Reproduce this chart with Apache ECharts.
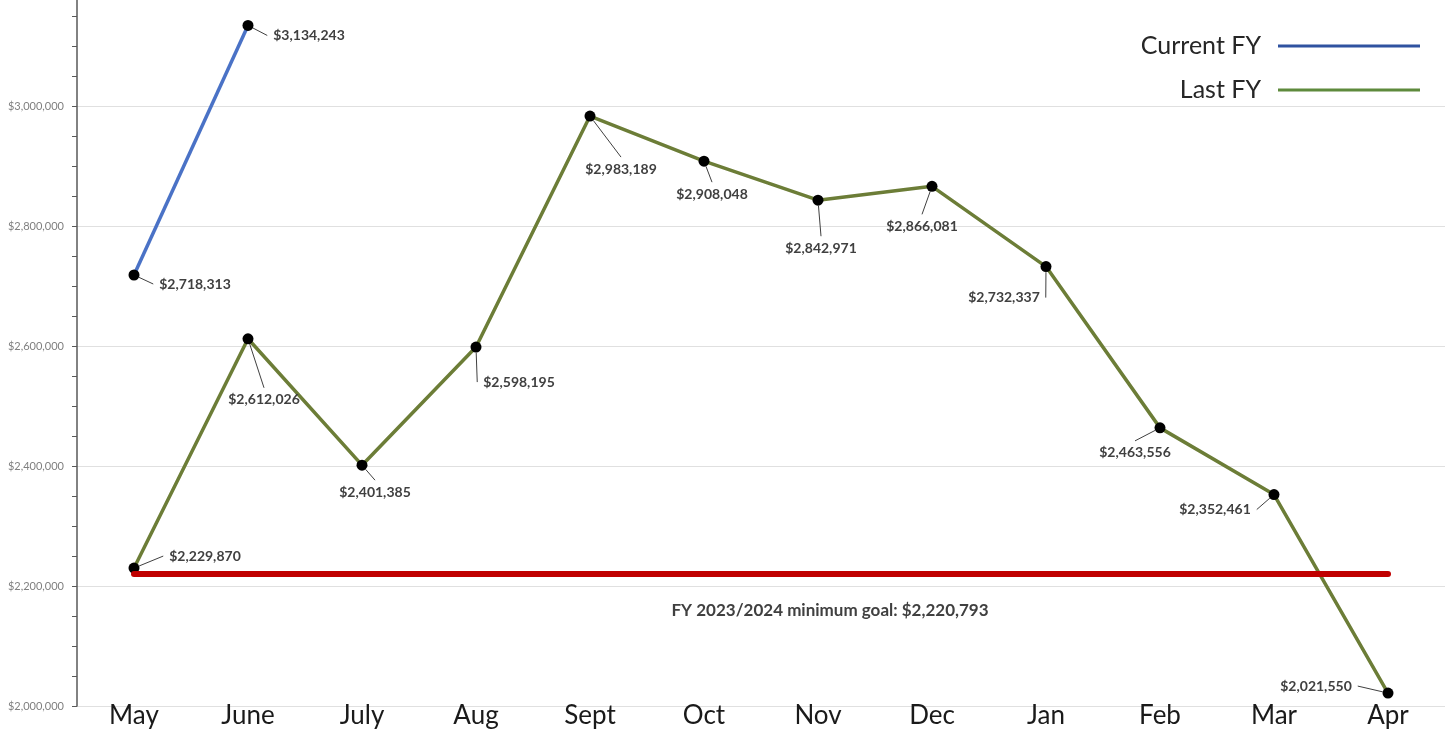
<!DOCTYPE html>
<html>
<head>
<meta charset="utf-8">
<title>Fiscal Year Comparison</title>
<script src="https://cdn.jsdelivr.net/npm/echarts@6/dist/echarts.min.js"></script>
<style>
  html, body { margin: 0; padding: 0; background: #ffffff; }
  #chart { width: 1447px; height: 730px; }
</style>
</head>
<body>
<div id="chart"></div>
<script>
// Monthly totals, fiscal year running May -> Apr
const months = ['May', 'June', 'July', 'Aug', 'Sept', 'Oct', 'Nov', 'Dec', 'Jan', 'Feb', 'Mar', 'Apr'];
const currentFY = [2718313, 3134243, null, null, null, null, null, null, null, null, null, null];
const lastFY = [2229870, 2612026, 2401385, 2598195, 2983189, 2908048, 2842971, 2866081, 2732337, 2463556, 2352461, 2021550];
const minimumGoal = 2220793;
const goalText = 'FY 2023/2024 minimum goal: ';

// Where each data label sits relative to its point (pixels)
const currentLabelShift = [[61, 9], [61, 10]];
const lastLabelShift = [
  [71, -12], [16, 61], [13, 27], [43, 35], [31, 53], [8, 33],
  [3, 48], [-10, 40], [-42, 31], [-25, 25], [-59, 15], [-72, -7]
];

const money = v => '$' + Math.round(v).toLocaleString('en-US');

const chart = echarts.init(document.getElementById('chart'));

// Transparent padded box keeps the leader lines from touching the text
const labelStyle = {
  show: true,
  position: 'inside',
  formatter: p => money(p.value),
  fontFamily: 'Lato',
  fontWeight: 'bold',
  fontSize: 14,
  color: '#404040',
  backgroundColor: 'rgba(255,255,255,0)',
  padding: [5, 6]
};
const leader = {
  show: true,
  lineStyle: { color: '#404040', width: 1 }
};

chart.setOption({
  animation: false,
  backgroundColor: '#ffffff',
  grid: { left: 77, right: 2, top: -14, bottom: 24, containLabel: false, outerBoundsMode: 'none' },
  legend: {
    orient: 'vertical',
    right: 22,
    top: 26,
    align: 'right',
    icon: 'rect',
    itemWidth: 142,
    itemHeight: 3,
    itemGap: 14,
    textStyle: { fontFamily: 'Lato', fontSize: 25, color: '#262626', lineHeight: 30, padding: [0, 12, 0, 0] },
    data: [
      { name: 'Current FY', itemStyle: { color: '#2f52a0' } },
      { name: 'Last FY', itemStyle: { color: '#5e8a3c' } }
    ]
  },
  xAxis: {
    type: 'category',
    data: months,
    boundaryGap: true,
    axisLine: { show: false },
    axisTick: { show: false },
    axisLabel: { fontFamily: 'Lato', fontSize: 26, color: '#1a1a1a', margin: -3 }
  },
  yAxis: {
    type: 'value',
    min: 2000000,
    max: 3200000,
    interval: 200000,
    axisLine: { show: true, lineStyle: { color: '#595959', width: 1.5 } },
    axisTick: { show: true, length: 5, lineStyle: { color: '#595959' } },
    minorTick: { show: true, splitNumber: 4, length: 5, lineStyle: { color: '#595959' } },
    splitLine: { show: true, lineStyle: { color: '#e0e0e0', width: 1 } },
    axisLabel: {
      fontFamily: 'Lato', fontSize: 11, color: '#7f7f7f', margin: 13,
      formatter: v => money(v)
    }
  },
  series: [
    {
      name: 'Goal',
      type: 'line',
      data: [],
      z: 1,
      silent: true,
      markLine: {
        symbol: 'none',
        silent: true,
        lineStyle: { color: '#c00000', width: 6, type: 'solid', cap: 'round' },
        label: {
          show: true,
          position: 'insideMiddleBottom',
          distance: 28,
          offset: [69, 0],
          formatter: goalText + money(minimumGoal),
          fontFamily: 'Lato',
          fontWeight: 'bold',
          fontSize: 17,
          color: '#404040'
        },
        data: [[{ coord: [months[0], minimumGoal] }, { coord: [months[months.length - 1], minimumGoal] }]]
      }
    },
    {
      name: 'Current FY',
      type: 'line',
      data: currentFY,
      z: 3,
      symbol: 'circle',
      symbolSize: 11,
      itemStyle: { color: '#000000' },
      lineStyle: { color: '#4a72c6', width: 3.5 },
      label: labelStyle,
      labelLine: leader,
      labelLayout: p => {
        const s = currentLabelShift[p.dataIndex] || [0, 0];
        return { dx: s[0], dy: s[1] };
      }
    },
    {
      name: 'Last FY',
      type: 'line',
      data: lastFY,
      z: 3,
      symbol: 'circle',
      symbolSize: 11,
      itemStyle: { color: '#000000' },
      lineStyle: { color: '#6c7d37', width: 3.5 },
      label: labelStyle,
      labelLine: leader,
      labelLayout: p => {
        const s = lastLabelShift[p.dataIndex] || [0, 0];
        return { dx: s[0], dy: s[1] };
      }
    }
  ]
});
</script>
</body>
</html>
